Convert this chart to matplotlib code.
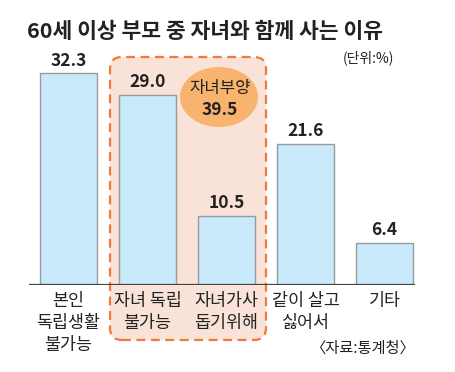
import matplotlib
matplotlib.use('Agg')
import matplotlib.pyplot as plt
from matplotlib.patches import FancyBboxPatch, Ellipse
from matplotlib.transforms import IdentityTransform

plt.rcParams['font.family'] = ['Noto Sans CJK KR', 'DejaVu Sans']

categories = ['본인\n독립생활\n불가능', '자녀 독립\n불가능', '자녀가사\n돕기위해', '같이 살고\n싫어서', '기타']
values = [32.3, 29.0, 10.5, 21.6, 6.4]
value_labels = ['32.3', '29.0', '10.5', '21.6', '6.4']
group_label = '자녀부양'
group_value = '39.5'
title = '60세 이상 부모 중 자녀와 함께 사는 이유'
unit = '(단위:%)'
source = '〈자료:통계청〉'

W, H = 455, 372
fig = plt.figure(figsize=(W / 100, H / 100), dpi=100)
fig.patch.set_facecolor('white')

# axes in pixel terms: left 29, right 415, baseline at y=285 (from top)
ax_l, ax_r, ax_b, ax_t = 29, 415, 285, 40
ax = fig.add_axes([ax_l / W, (H - ax_b) / H, (ax_r - ax_l) / W, (ax_b - ax_t) / H])
ax.set_xlim(-0.5, 4.386)
ax.set_ylim(0, (ax_b - ax_t) / 6.55)
ax.axis('off')

ident = IdentityTransform()

def px(x, y):
    # top-left pixel coords -> display coords
    return x, H - y

# highlighted group box
x0, y0 = px(110, 340)
box = FancyBboxPatch((x0, y0), 156, 283, boxstyle='round,pad=0,rounding_size=12',
                     transform=ident, facecolor='#f9e2d7', edgecolor='#f07a3a',
                     linestyle=(0, (4, 2.5)), linewidth=1.6, zorder=0, clip_on=False)
ax.add_patch(box)

xs = range(len(values))
ax.bar(xs, values, width=0.72, color='#c8e9fa', edgecolor='#9a9a9a', linewidth=1, zorder=2)
ax.axhline(0, color='#444444', linewidth=1.6, zorder=3)

for x, v, lab in zip(xs, values, value_labels):
    ax.text(x, v + 0.6, lab, ha='center', va='bottom', fontsize=12.5, fontweight='bold',
            color='#222222', zorder=4)

for x, c in zip(xs, categories):
    ax.annotate(c, (x, 0), xytext=(0, -5), textcoords='offset points', ha='center', va='top',
                fontsize=12.5, linespacing=1.3, color='#222222', annotation_clip=False)

# ellipse with group total
ex, ey = px(219, 97)
ell = Ellipse((ex, ey), 78, 60, transform=ident, facecolor='#f8b46e', edgecolor='none',
              zorder=5, clip_on=False)
ax.add_patch(ell)
ax.text(220 / W, 1 - 89 / H, group_label, transform=fig.transFigure, ha='center', va='center',
        fontsize=12, color='#222222', zorder=6)
ax.text(220 / W, 1 - 110 / H, group_value, transform=fig.transFigure, ha='center', va='center',
        fontsize=12.5, fontweight='bold', color='#222222', zorder=6)

fig.text(27 / W, 1 - 32 / H, title, ha='left', va='center', fontsize=15.5, fontweight='bold',
         color='#222222')
fig.text(394 / W, 1 - 58 / H, unit, ha='right', va='center', fontsize=10, color='#222222')
fig.text(415 / W, 1 - 348 / H, source, ha='right', va='center', fontsize=11, color='#222222')

fig.savefig('out.png', dpi=100)
